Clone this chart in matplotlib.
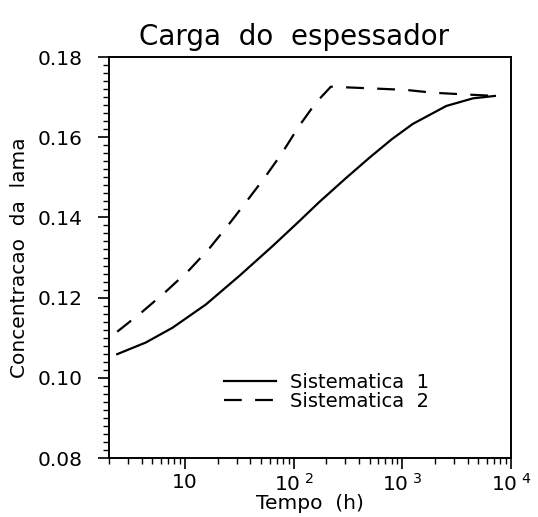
import numpy as np
import matplotlib
matplotlib.use("Agg")
import matplotlib.pyplot as plt
from matplotlib.ticker import FixedLocator, MultipleLocator, NullFormatter

plt.rcParams['font.family']      = ['DejaVu Sans']
plt.rcParams['mathtext.default'] = 'regular'

# valores
tempo_s1 = [2.38, 4.36, 7.69, 15.6, 31.9, 64.9, 114, 170, 300, 494, 800, 1245, 2541, 4477, 7110]
conc_s1  = [0.1059, 0.1088, 0.1125, 0.1183, 0.1255, 0.1330, 0.1392, 0.1437, 0.1497,
            0.1548, 0.1595, 0.1633, 0.1678, 0.1697, 0.1703]

tempo_s2 = [2.38, 4.06, 6.67, 10.96, 16.8, 25.7, 35.7, 54.7, 78.0, 111, 159, 220,
            494, 1081, 1909, 3616, 7110]
conc_s2  = [0.1115, 0.1165, 0.1215, 0.1269, 0.1323, 0.1385, 0.1435, 0.1501, 0.1560,
            0.1626, 0.1685, 0.1726, 0.1722, 0.1718, 0.1711, 0.1707, 0.1703]

x_ticks  = [10, 100, 1000, 10000]
x_labels = ['10', r'$10^{\ 2}$', r'$10^{\ 3}$', r'$10^{\ 4}$']
y_ticks  = [0.08, 0.10, 0.12, 0.14, 0.16, 0.18]

fig = plt.figure(figsize=(5.38, 5.17), dpi=100)
ax  = fig.add_axes([0.2026, 0.1141, 0.7472, 0.7756])

ax.plot(tempo_s1, conc_s1, color='black', lw=1.6, label='Sistematica  1')
ax.plot(tempo_s2, conc_s2, color='black', lw=1.6, linestyle=(0, (8, 6)), label='Sistematica  2')

ax.set_xscale('log')
ax.set_xlim(2, 1e4)
ax.set_ylim(0.08, 0.18)

ax.xaxis.set_major_locator(FixedLocator(x_ticks))
ax.set_xticklabels(x_labels)
ax.xaxis.set_minor_locator(FixedLocator([m * 10**d for d in range(0, 4) for m in range(2, 10)]))
ax.xaxis.set_minor_formatter(NullFormatter())

ax.yaxis.set_major_locator(FixedLocator(y_ticks))
ax.set_yticklabels([f'{v:.2f}' for v in y_ticks])
ax.yaxis.set_minor_locator(MultipleLocator(0.002))

ax.tick_params(which='major', direction='out', length=8, width=1.2, labelsize=14.5, top=False, right=False)
ax.tick_params(which='minor', direction='out', length=4.3, width=1.0, top=False, right=False)
ax.tick_params(axis='y', which='major', pad=11)
ax.tick_params(axis='x', which='major', pad=3)

for s in ax.spines.values():
    s.set_linewidth(1.4)

ax.set_title('Carga  do  espessador', fontsize=20, pad=9, x=0.46)
ax.set_xlabel('Tempo  (h)', fontsize=14.5, labelpad=-1)
ax.set_ylabel('Concentracao  da  lama', fontsize=14.5, labelpad=6)

ax.legend(loc='center', bbox_to_anchor=(0.54, 0.165), frameon=False, fontsize=14,
          handlelength=2.7, handletextpad=0.7, labelspacing=0.0, borderpad=0)

fig.savefig('out.png', dpi=100)
